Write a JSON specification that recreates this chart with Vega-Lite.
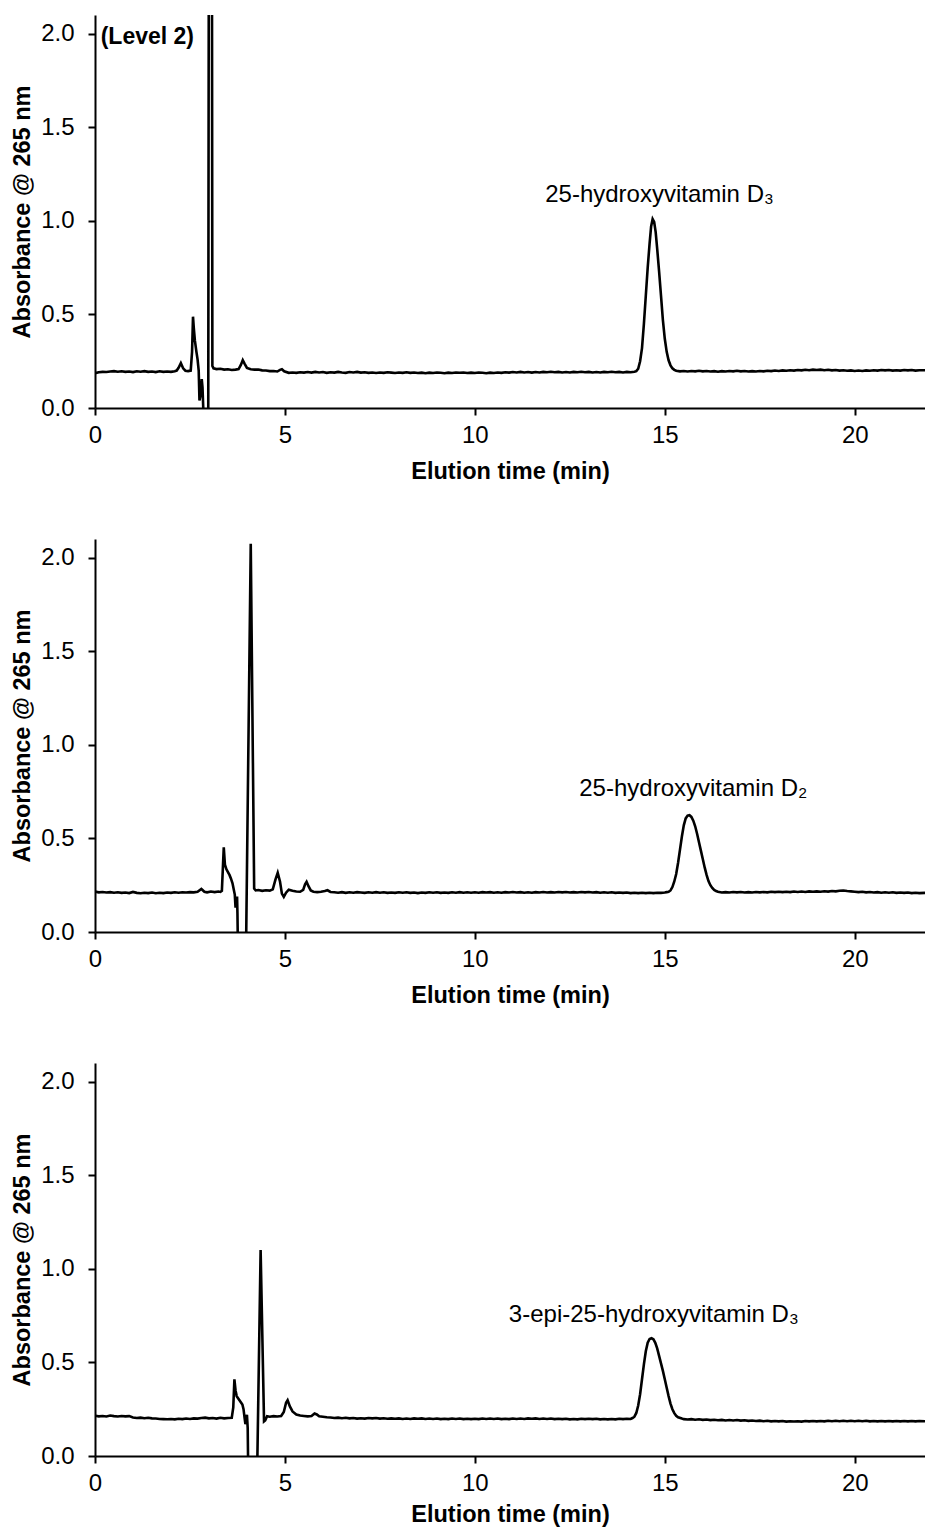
{
  "$schema": "https://vega.github.io/schema/vega-lite/v6.json",
  "background": "white",
  "padding": {"left": 10, "top": 15, "right": 0, "bottom": 5},
  "spacing": 56,
  "config": {
    "view": {"stroke": null},
    "font": "Liberation Sans",
    "axis": {"domainColor": "#000", "domainWidth": 2, "tickColor": "#000", "tickWidth": 2, "tickSize": 7, "labelColor": "#000", "labelFont": "Liberation Sans", "labelFontSize": 24, "titleFont": "Liberation Sans", "titleFontSize": 23.5, "titleFontWeight": "bold", "titleColor": "#000", "grid": false},
    "axisX": {"labelPadding": 8, "titlePadding": 12, "labelFlush": false},
    "axisY": {"labelPadding": 14, "titlePadding": 6}
  },
  "datasets": {
    "p1": [
      {"t":0,"v":0.186},{"t":0.1,"v":0.191},{"t":0.2,"v":0.193},{"t":0.3,"v":0.192},{"t":0.4,"v":0.195},{"t":0.5,"v":0.197},{"t":0.6,"v":0.194},{"t":0.7,"v":0.196},{"t":0.8,"v":0.193},{"t":0.9,"v":0.195},{"t":1.0,"v":0.192},{"t":1.1,"v":0.196},{"t":1.2,"v":0.194},{"t":1.3,"v":0.197},{"t":1.4,"v":0.193},{"t":1.5,"v":0.195},{"t":1.6,"v":0.192},{"t":1.7,"v":0.196},{"t":1.8,"v":0.193},{"t":1.9,"v":0.195},{"t":2.0,"v":0.193},{"t":2.1,"v":0.196},{"t":2.15,"v":0.2},{"t":2.2,"v":0.215},{"t":2.26,"v":0.24},{"t":2.32,"v":0.212},{"t":2.38,"v":0.199},{"t":2.45,"v":0.197},{"t":2.52,"v":0.2},{"t":2.555,"v":0.3},{"t":2.58,"v":0.488},{"t":2.6,"v":0.43},{"t":2.63,"v":0.36},{"t":2.67,"v":0.3},{"t":2.7,"v":0.26},{"t":2.73,"v":0.2},{"t":2.75,"v":0.04},{"t":2.78,"v":0.07},{"t":2.81,"v":0.155},{"t":2.83,"v":0.11},{"t":2.85,"v":0.0},{"t":2.87,"v":-0.3},{"t":2.98,"v":-0.3},{"t":3.04,"v":10},{"t":3.09,"v":0.225},{"t":3.12,"v":0.212},{"t":3.2,"v":0.208},{"t":3.3,"v":0.21},{"t":3.4,"v":0.205},{"t":3.5,"v":0.207},{"t":3.6,"v":0.203},{"t":3.7,"v":0.205},{"t":3.78,"v":0.208},{"t":3.84,"v":0.23},{"t":3.89,"v":0.256},{"t":3.94,"v":0.236},{"t":4.0,"v":0.214},{"t":4.1,"v":0.207},{"t":4.2,"v":0.205},{"t":4.3,"v":0.206},{"t":4.4,"v":0.201},{"t":4.5,"v":0.2},{"t":4.6,"v":0.197},{"t":4.7,"v":0.198},{"t":4.8,"v":0.195},{"t":4.87,"v":0.204},{"t":4.92,"v":0.207},{"t":4.98,"v":0.196},{"t":5.1,"v":0.188},{"t":5.2,"v":0.19},{"t":5.3,"v":0.188},{"t":5.4,"v":0.191},{"t":5.5,"v":0.189},
      {"t":5.6,"v":0.192},{"t":5.7,"v":0.189},{"t":5.8,"v":0.193},{"t":5.9,"v":0.19},{"t":6.0,"v":0.192},{"t":6.1,"v":0.188},{"t":6.2,"v":0.191},{"t":6.3,"v":0.189},{"t":6.4,"v":0.193},{"t":6.5,"v":0.19},{"t":6.6,"v":0.188},{"t":6.7,"v":0.192},{"t":6.8,"v":0.19},{"t":6.9,"v":0.193},{"t":7.0,"v":0.189},{"t":7.1,"v":0.191},{"t":7.2,"v":0.188},{"t":7.3,"v":0.19},{"t":7.4,"v":0.187},{"t":7.5,"v":0.19},{"t":7.6,"v":0.188},{"t":7.7,"v":0.191},{"t":7.8,"v":0.189},{"t":7.9,"v":0.187},{"t":8.0,"v":0.19},{"t":8.1,"v":0.188},{"t":8.2,"v":0.191},{"t":8.3,"v":0.188},{"t":8.4,"v":0.19},{"t":8.5,"v":0.187},{"t":8.6,"v":0.189},{"t":8.7,"v":0.186},{"t":8.8,"v":0.189},{"t":8.9,"v":0.187},{"t":9.0,"v":0.19},{"t":9.1,"v":0.188},{"t":9.2,"v":0.186},{"t":9.3,"v":0.189},{"t":9.4,"v":0.187},{"t":9.5,"v":0.19},{"t":9.6,"v":0.188},{"t":9.7,"v":0.19},{"t":9.8,"v":0.187},{"t":9.9,"v":0.189},{"t":10.0,"v":0.187},{"t":10.1,"v":0.19},{"t":10.2,"v":0.188},{"t":10.3,"v":0.186},{"t":10.4,"v":0.189},{"t":10.5,"v":0.187},{"t":10.6,"v":0.19},{"t":10.7,"v":0.188},{"t":10.8,"v":0.191},{"t":10.9,"v":0.189},{"t":11.0,"v":0.192},{"t":11.1,"v":0.19},{"t":11.2,"v":0.193},{"t":11.3,"v":0.19},{"t":11.4,"v":0.192},{"t":11.5,"v":0.189},{"t":11.6,"v":0.192},{"t":11.7,"v":0.19},{"t":11.8,"v":0.193},{"t":11.9,"v":0.191},{"t":12.0,"v":0.194},{"t":12.1,"v":0.191},{"t":12.2,"v":0.193},{"t":12.3,"v":0.19},{"t":12.4,"v":0.192},{"t":12.5,"v":0.19},{"t":12.6,"v":0.193},{"t":12.7,"v":0.191},{"t":12.8,"v":0.194},{"t":12.9,"v":0.191},{"t":13.0,"v":0.193},{"t":13.1,"v":0.19},{"t":13.2,"v":0.192},{"t":13.3,"v":0.19},{"t":13.4,"v":0.193},{"t":13.5,"v":0.191},{"t":13.6,"v":0.194},{"t":13.7,"v":0.191},{"t":13.8,"v":0.193},{"t":13.9,"v":0.19},{"t":14.0,"v":0.193},{"t":14.1,"v":0.191},{"t":14.2,"v":0.194},
      {"t":14.25,"v":0.197},{"t":14.3,"v":0.21},{"t":14.35,"v":0.25},{"t":14.4,"v":0.32},{"t":14.45,"v":0.45},{"t":14.5,"v":0.6},{"t":14.55,"v":0.75},{"t":14.6,"v":0.88},{"t":14.64,"v":0.97},{"t":14.68,"v":1.01},{"t":14.72,"v":0.995},{"t":14.76,"v":0.94},{"t":14.8,"v":0.85},{"t":14.85,"v":0.73},{"t":14.9,"v":0.6},{"t":14.95,"v":0.47},{"t":15.0,"v":0.37},{"t":15.05,"v":0.3},{"t":15.1,"v":0.255},{"t":15.15,"v":0.228},{"t":15.2,"v":0.212},{"t":15.25,"v":0.204},{"t":15.3,"v":0.199},
      {"t":15.4,"v":0.196},{"t":15.5,"v":0.198},{"t":15.6,"v":0.195},{"t":15.7,"v":0.198},{"t":15.8,"v":0.196},{"t":15.9,"v":0.199},{"t":16.0,"v":0.196},{"t":16.1,"v":0.198},{"t":16.2,"v":0.195},{"t":16.3,"v":0.197},{"t":16.4,"v":0.194},{"t":16.5,"v":0.197},{"t":16.6,"v":0.195},{"t":16.7,"v":0.198},{"t":16.8,"v":0.196},{"t":16.9,"v":0.199},{"t":17.0,"v":0.196},{"t":17.1,"v":0.198},{"t":17.2,"v":0.195},{"t":17.3,"v":0.197},{"t":17.4,"v":0.195},{"t":17.5,"v":0.198},{"t":17.6,"v":0.196},{"t":17.7,"v":0.199},{"t":17.8,"v":0.197},{"t":17.9,"v":0.2},{"t":18.0,"v":0.198},{"t":18.1,"v":0.201},{"t":18.2,"v":0.199},{"t":18.3,"v":0.202},{"t":18.4,"v":0.2},{"t":18.5,"v":0.203},{"t":18.6,"v":0.201},{"t":18.7,"v":0.204},{"t":18.8,"v":0.202},{"t":18.9,"v":0.205},{"t":19.0,"v":0.203},{"t":19.1,"v":0.205},{"t":19.2,"v":0.202},{"t":19.3,"v":0.204},{"t":19.4,"v":0.201},{"t":19.5,"v":0.203},{"t":19.6,"v":0.2},{"t":19.7,"v":0.202},{"t":19.8,"v":0.199},{"t":19.9,"v":0.201},{"t":20.0,"v":0.198},{"t":20.1,"v":0.2},{"t":20.2,"v":0.198},{"t":20.3,"v":0.201},{"t":20.4,"v":0.199},{"t":20.5,"v":0.202},{"t":20.6,"v":0.2},{"t":20.7,"v":0.203},{"t":20.8,"v":0.201},{"t":20.9,"v":0.203},{"t":21.0,"v":0.2},{"t":21.1,"v":0.202},{"t":21.2,"v":0.2},{"t":21.3,"v":0.203},{"t":21.4,"v":0.201},{"t":21.5,"v":0.203},{"t":21.6,"v":0.2},{"t":21.7,"v":0.202},{"t":21.85,"v":0.202}
    ],
    "p2": [
      {"t":0,"v":0.216},{"t":0.1,"v":0.212},{"t":0.2,"v":0.214},{"t":0.3,"v":0.211},{"t":0.4,"v":0.213},{"t":0.5,"v":0.21},{"t":0.6,"v":0.212},{"t":0.7,"v":0.209},{"t":0.8,"v":0.211},{"t":0.9,"v":0.208},{"t":1.0,"v":0.214},{"t":1.1,"v":0.209},{"t":1.2,"v":0.207},{"t":1.3,"v":0.21},{"t":1.4,"v":0.208},{"t":1.5,"v":0.211},{"t":1.6,"v":0.207},{"t":1.7,"v":0.21},{"t":1.8,"v":0.208},{"t":1.9,"v":0.211},{"t":2.0,"v":0.209},{"t":2.1,"v":0.212},{"t":2.2,"v":0.21},{"t":2.3,"v":0.212},{"t":2.4,"v":0.211},{"t":2.5,"v":0.213},{"t":2.6,"v":0.212},{"t":2.7,"v":0.215},{"t":2.8,"v":0.23},{"t":2.88,"v":0.215},{"t":2.95,"v":0.212},{"t":3.05,"v":0.216},{"t":3.15,"v":0.213},{"t":3.25,"v":0.216},{"t":3.3,"v":0.214},{"t":3.34,"v":0.22},{"t":3.37,"v":0.36},{"t":3.39,"v":0.452},{"t":3.42,"v":0.36},{"t":3.46,"v":0.335},{"t":3.5,"v":0.32},{"t":3.54,"v":0.305},{"t":3.58,"v":0.285},{"t":3.62,"v":0.26},{"t":3.65,"v":0.23},{"t":3.68,"v":0.2},{"t":3.7,"v":0.13},{"t":3.72,"v":0.17},{"t":3.74,"v":0.19},{"t":3.75,"v":0.1},{"t":3.77,"v":-0.2},{"t":3.97,"v":-0.2},{"t":4.1,"v":2.075},{"t":4.19,"v":0.232},{"t":4.23,"v":0.222},{"t":4.3,"v":0.224},{"t":4.4,"v":0.22},{"t":4.5,"v":0.223},{"t":4.6,"v":0.221},{"t":4.68,"v":0.228},{"t":4.75,"v":0.28},{"t":4.81,"v":0.316},{"t":4.87,"v":0.27},{"t":4.92,"v":0.205},{"t":4.97,"v":0.188},{"t":5.03,"v":0.21},{"t":5.1,"v":0.226},{"t":5.2,"v":0.22},{"t":5.3,"v":0.216},{"t":5.4,"v":0.215},{"t":5.48,"v":0.225},{"t":5.53,"v":0.255},{"t":5.57,"v":0.268},{"t":5.62,"v":0.245},{"t":5.68,"v":0.222},{"t":5.75,"v":0.215},{"t":5.85,"v":0.213},{"t":5.95,"v":0.215},{"t":6.05,"v":0.219},{"t":6.12,"v":0.223},{"t":6.2,"v":0.214},{"t":6.3,"v":0.212},
      {"t":6.4,"v":0.21},{"t":6.5,"v":0.213},{"t":6.6,"v":0.209},{"t":6.7,"v":0.212},{"t":6.8,"v":0.21},{"t":6.9,"v":0.213},{"t":7.0,"v":0.211},{"t":7.1,"v":0.209},{"t":7.2,"v":0.212},{"t":7.3,"v":0.21},{"t":7.4,"v":0.213},{"t":7.5,"v":0.21},{"t":7.6,"v":0.212},{"t":7.7,"v":0.209},{"t":7.8,"v":0.211},{"t":7.9,"v":0.209},{"t":8.0,"v":0.212},{"t":8.1,"v":0.21},{"t":8.2,"v":0.212},{"t":8.3,"v":0.209},{"t":8.4,"v":0.211},{"t":8.5,"v":0.208},{"t":8.6,"v":0.211},{"t":8.7,"v":0.209},{"t":8.8,"v":0.212},{"t":8.9,"v":0.21},{"t":9.0,"v":0.212},{"t":9.1,"v":0.209},{"t":9.2,"v":0.211},{"t":9.3,"v":0.209},{"t":9.4,"v":0.212},{"t":9.5,"v":0.21},{"t":9.6,"v":0.213},{"t":9.7,"v":0.21},{"t":9.8,"v":0.212},{"t":9.9,"v":0.21},{"t":10.0,"v":0.212},{"t":10.1,"v":0.21},{"t":10.2,"v":0.213},{"t":10.3,"v":0.211},{"t":10.4,"v":0.213},{"t":10.5,"v":0.21},{"t":10.6,"v":0.212},{"t":10.7,"v":0.21},{"t":10.8,"v":0.213},{"t":10.9,"v":0.211},{"t":11.0,"v":0.214},{"t":11.1,"v":0.211},{"t":11.2,"v":0.213},{"t":11.3,"v":0.21},{"t":11.4,"v":0.212},{"t":11.5,"v":0.21},{"t":11.6,"v":0.213},{"t":11.7,"v":0.211},{"t":11.8,"v":0.214},{"t":11.9,"v":0.211},{"t":12.0,"v":0.213},{"t":12.1,"v":0.211},{"t":12.2,"v":0.214},{"t":12.3,"v":0.212},{"t":12.4,"v":0.214},{"t":12.5,"v":0.211},{"t":12.6,"v":0.213},{"t":12.7,"v":0.211},{"t":12.8,"v":0.214},{"t":12.9,"v":0.212},{"t":13.0,"v":0.214},{"t":13.1,"v":0.211},{"t":13.2,"v":0.213},{"t":13.3,"v":0.21},{"t":13.4,"v":0.212},{"t":13.5,"v":0.21},{"t":13.6,"v":0.212},{"t":13.7,"v":0.209},{"t":13.8,"v":0.211},{"t":13.9,"v":0.209},{"t":14.0,"v":0.211},{"t":14.1,"v":0.208},{"t":14.2,"v":0.21},{"t":14.3,"v":0.208},{"t":14.4,"v":0.21},{"t":14.5,"v":0.208},{"t":14.6,"v":0.21},{"t":14.7,"v":0.208},{"t":14.8,"v":0.21},{"t":14.9,"v":0.209},{"t":15.0,"v":0.211},
      {"t":15.05,"v":0.213},{"t":15.1,"v":0.215},{"t":15.15,"v":0.222},{"t":15.2,"v":0.24},{"t":15.25,"v":0.27},{"t":15.3,"v":0.31},{"t":15.35,"v":0.37},{"t":15.4,"v":0.44},{"t":15.45,"v":0.51},{"t":15.5,"v":0.57},{"t":15.55,"v":0.607},{"t":15.6,"v":0.622},{"t":15.65,"v":0.624},{"t":15.7,"v":0.615},{"t":15.75,"v":0.595},{"t":15.8,"v":0.565},{"t":15.85,"v":0.525},{"t":15.9,"v":0.48},{"t":15.95,"v":0.435},{"t":16.0,"v":0.39},{"t":16.05,"v":0.345},{"t":16.1,"v":0.305},{"t":16.15,"v":0.272},{"t":16.2,"v":0.25},{"t":16.25,"v":0.235},{"t":16.3,"v":0.225},{"t":16.35,"v":0.219},{"t":16.4,"v":0.215},
      {"t":16.5,"v":0.211},{"t":16.6,"v":0.213},{"t":16.7,"v":0.211},{"t":16.8,"v":0.214},{"t":16.9,"v":0.212},{"t":17.0,"v":0.214},{"t":17.1,"v":0.211},{"t":17.2,"v":0.213},{"t":17.3,"v":0.211},{"t":17.4,"v":0.214},{"t":17.5,"v":0.212},{"t":17.6,"v":0.214},{"t":17.7,"v":0.212},{"t":17.8,"v":0.215},{"t":17.9,"v":0.213},{"t":18.0,"v":0.215},{"t":18.1,"v":0.213},{"t":18.2,"v":0.215},{"t":18.3,"v":0.213},{"t":18.4,"v":0.216},{"t":18.5,"v":0.214},{"t":18.6,"v":0.216},{"t":18.7,"v":0.214},{"t":18.8,"v":0.217},{"t":18.9,"v":0.215},{"t":19.0,"v":0.217},{"t":19.1,"v":0.215},{"t":19.2,"v":0.218},{"t":19.3,"v":0.216},{"t":19.4,"v":0.219},{"t":19.5,"v":0.217},{"t":19.6,"v":0.22},{"t":19.7,"v":0.222},{"t":19.8,"v":0.219},{"t":19.9,"v":0.217},{"t":20.0,"v":0.215},{"t":20.1,"v":0.213},{"t":20.2,"v":0.215},{"t":20.3,"v":0.212},{"t":20.4,"v":0.214},{"t":20.5,"v":0.211},{"t":20.6,"v":0.213},{"t":20.7,"v":0.21},{"t":20.8,"v":0.212},{"t":20.9,"v":0.21},{"t":21.0,"v":0.212},{"t":21.1,"v":0.209},{"t":21.2,"v":0.211},{"t":21.3,"v":0.209},{"t":21.4,"v":0.211},{"t":21.5,"v":0.208},{"t":21.6,"v":0.21},{"t":21.7,"v":0.208},{"t":21.85,"v":0.209}
    ],
    "p3": [
      {"t":0,"v":0.215},{"t":0.1,"v":0.212},{"t":0.2,"v":0.214},{"t":0.3,"v":0.211},{"t":0.4,"v":0.216},{"t":0.5,"v":0.213},{"t":0.6,"v":0.211},{"t":0.7,"v":0.214},{"t":0.8,"v":0.212},{"t":0.9,"v":0.213},{"t":1.0,"v":0.206},{"t":1.1,"v":0.203},{"t":1.2,"v":0.205},{"t":1.3,"v":0.202},{"t":1.4,"v":0.204},{"t":1.5,"v":0.201},{"t":1.6,"v":0.2},{"t":1.7,"v":0.198},{"t":1.8,"v":0.197},{"t":1.9,"v":0.196},{"t":2.0,"v":0.198},{"t":2.1,"v":0.196},{"t":2.2,"v":0.199},{"t":2.3,"v":0.197},{"t":2.4,"v":0.2},{"t":2.5,"v":0.198},{"t":2.6,"v":0.201},{"t":2.7,"v":0.2},{"t":2.8,"v":0.203},{"t":2.9,"v":0.205},{"t":3.0,"v":0.201},{"t":3.1,"v":0.203},{"t":3.2,"v":0.2},{"t":3.3,"v":0.204},{"t":3.4,"v":0.201},{"t":3.5,"v":0.203},{"t":3.6,"v":0.204},{"t":3.64,"v":0.26},{"t":3.67,"v":0.41},{"t":3.7,"v":0.35},{"t":3.73,"v":0.32},{"t":3.78,"v":0.305},{"t":3.83,"v":0.29},{"t":3.88,"v":0.275},{"t":3.91,"v":0.25},{"t":3.94,"v":0.2},{"t":3.96,"v":0.17},{"t":3.98,"v":0.195},{"t":4.0,"v":0.22},{"t":4.02,"v":0.15},{"t":4.04,"v":-0.2},{"t":4.26,"v":-0.2},{"t":4.36,"v":1.1},{"t":4.45,"v":0.185},{"t":4.48,"v":0.19},{"t":4.53,"v":0.213},{"t":4.6,"v":0.21},{"t":4.7,"v":0.213},{"t":4.8,"v":0.211},{"t":4.9,"v":0.214},{"t":4.97,"v":0.235},{"t":5.03,"v":0.285},{"t":5.07,"v":0.298},{"t":5.13,"v":0.265},{"t":5.2,"v":0.238},{"t":5.3,"v":0.222},{"t":5.4,"v":0.216},{"t":5.5,"v":0.214},{"t":5.6,"v":0.212},{"t":5.7,"v":0.214},{"t":5.78,"v":0.227},{"t":5.84,"v":0.222},{"t":5.9,"v":0.212},{"t":6.0,"v":0.21},{"t":6.1,"v":0.207},
      {"t":6.2,"v":0.206},{"t":6.3,"v":0.203},{"t":6.4,"v":0.205},{"t":6.5,"v":0.202},{"t":6.6,"v":0.204},{"t":6.7,"v":0.201},{"t":6.8,"v":0.203},{"t":6.9,"v":0.2},{"t":7.0,"v":0.202},{"t":7.1,"v":0.2},{"t":7.2,"v":0.203},{"t":7.3,"v":0.201},{"t":7.4,"v":0.203},{"t":7.5,"v":0.2},{"t":7.6,"v":0.202},{"t":7.7,"v":0.199},{"t":7.8,"v":0.201},{"t":7.9,"v":0.199},{"t":8.0,"v":0.201},{"t":8.1,"v":0.198},{"t":8.2,"v":0.2},{"t":8.3,"v":0.198},{"t":8.4,"v":0.201},{"t":8.5,"v":0.199},{"t":8.6,"v":0.201},{"t":8.7,"v":0.198},{"t":8.8,"v":0.2},{"t":8.9,"v":0.198},{"t":9.0,"v":0.2},{"t":9.1,"v":0.197},{"t":9.2,"v":0.199},{"t":9.3,"v":0.197},{"t":9.4,"v":0.2},{"t":9.5,"v":0.198},{"t":9.6,"v":0.2},{"t":9.7,"v":0.197},{"t":9.8,"v":0.199},{"t":9.9,"v":0.197},{"t":10.0,"v":0.199},{"t":10.1,"v":0.197},{"t":10.2,"v":0.2},{"t":10.3,"v":0.198},{"t":10.4,"v":0.2},{"t":10.5,"v":0.198},{"t":10.6,"v":0.2},{"t":10.7,"v":0.197},{"t":10.8,"v":0.199},{"t":10.9,"v":0.197},{"t":11.0,"v":0.2},{"t":11.1,"v":0.198},{"t":11.2,"v":0.2},{"t":11.3,"v":0.198},{"t":11.4,"v":0.201},{"t":11.5,"v":0.199},{"t":11.6,"v":0.201},{"t":11.7,"v":0.198},{"t":11.8,"v":0.2},{"t":11.9,"v":0.198},{"t":12.0,"v":0.2},{"t":12.1,"v":0.197},{"t":12.2,"v":0.199},{"t":12.3,"v":0.197},{"t":12.4,"v":0.199},{"t":12.5,"v":0.196},{"t":12.6,"v":0.198},{"t":12.7,"v":0.196},{"t":12.8,"v":0.199},{"t":12.9,"v":0.197},{"t":13.0,"v":0.199},{"t":13.1,"v":0.197},{"t":13.2,"v":0.199},{"t":13.3,"v":0.196},{"t":13.4,"v":0.198},{"t":13.5,"v":0.196},{"t":13.6,"v":0.198},{"t":13.7,"v":0.196},{"t":13.8,"v":0.199},{"t":13.9,"v":0.197},{"t":14.0,"v":0.199},{"t":14.1,"v":0.198},
      {"t":14.15,"v":0.203},{"t":14.2,"v":0.21},{"t":14.25,"v":0.23},{"t":14.3,"v":0.27},{"t":14.35,"v":0.33},{"t":14.4,"v":0.41},{"t":14.45,"v":0.49},{"t":14.5,"v":0.56},{"t":14.55,"v":0.605},{"t":14.6,"v":0.625},{"t":14.65,"v":0.629},{"t":14.7,"v":0.624},{"t":14.75,"v":0.605},{"t":14.8,"v":0.575},{"t":14.85,"v":0.535},{"t":14.9,"v":0.495},{"t":14.95,"v":0.455},{"t":15.0,"v":0.41},{"t":15.05,"v":0.365},{"t":15.1,"v":0.32},{"t":15.15,"v":0.28},{"t":15.2,"v":0.25},{"t":15.25,"v":0.229},{"t":15.3,"v":0.215},{"t":15.35,"v":0.207},{"t":15.45,"v":0.2},
      {"t":15.5,"v":0.197},{"t":15.6,"v":0.195},{"t":15.7,"v":0.197},{"t":15.8,"v":0.194},{"t":15.9,"v":0.196},{"t":16.0,"v":0.193},{"t":16.1,"v":0.195},{"t":16.2,"v":0.192},{"t":16.3,"v":0.194},{"t":16.4,"v":0.191},{"t":16.5,"v":0.193},{"t":16.6,"v":0.19},{"t":16.7,"v":0.192},{"t":16.8,"v":0.19},{"t":16.9,"v":0.192},{"t":17.0,"v":0.189},{"t":17.1,"v":0.191},{"t":17.2,"v":0.188},{"t":17.3,"v":0.19},{"t":17.4,"v":0.187},{"t":17.5,"v":0.189},{"t":17.6,"v":0.186},{"t":17.7,"v":0.188},{"t":17.8,"v":0.185},{"t":17.9,"v":0.187},{"t":18.0,"v":0.185},{"t":18.1,"v":0.187},{"t":18.2,"v":0.184},{"t":18.3,"v":0.186},{"t":18.4,"v":0.184},{"t":18.5,"v":0.186},{"t":18.6,"v":0.184},{"t":18.7,"v":0.187},{"t":18.8,"v":0.185},{"t":18.9,"v":0.187},{"t":19.0,"v":0.185},{"t":19.1,"v":0.187},{"t":19.2,"v":0.185},{"t":19.3,"v":0.188},{"t":19.4,"v":0.186},{"t":19.5,"v":0.188},{"t":19.6,"v":0.186},{"t":19.7,"v":0.188},{"t":19.8,"v":0.186},{"t":19.9,"v":0.188},{"t":20.0,"v":0.186},{"t":20.1,"v":0.188},{"t":20.2,"v":0.186},{"t":20.3,"v":0.188},{"t":20.4,"v":0.185},{"t":20.5,"v":0.187},{"t":20.6,"v":0.185},{"t":20.7,"v":0.187},{"t":20.8,"v":0.185},{"t":20.9,"v":0.187},{"t":21.0,"v":0.185},{"t":21.1,"v":0.187},{"t":21.2,"v":0.185},{"t":21.3,"v":0.187},{"t":21.4,"v":0.185},{"t":21.5,"v":0.187},{"t":21.6,"v":0.185},{"t":21.7,"v":0.187},{"t":21.85,"v":0.186}
    ],
    "l1": [{"t":14.86,"v":1.1,"label":"25-hydroxyvitamin D₃"}],
    "lev": [{"t":0.15,"v":1.985,"label":"(Level 2)"}],
    "l2": [{"t":15.75,"v":0.727,"label":"25-hydroxyvitamin D₂"}],
    "l3": [{"t":14.71,"v":0.718,"label":"3-epi-25-hydroxyvitamin D₃"}]
  },
  "vconcat": [
    {
      "width": 830, "height": 393,
      "encoding": {
        "x": {"field": "t", "type": "quantitative", "scale": {"domain": [0, 21.85], "nice": false, "zero": false}, "axis": {"values": [0, 5, 10, 15, 20], "format": "d", "title": "Elution time (min)"}},
        "y": {"field": "v", "type": "quantitative", "scale": {"domain": [0, 2.1], "nice": false}, "axis": {"values": [0, 0.5, 1, 1.5, 2], "format": ".1f", "title": "Absorbance @ 265 nm"}}
      },
      "layer": [
        {"data": {"name": "p1"}, "mark": {"type": "line", "color": "#000", "strokeWidth": 2.6, "clip": true, "interpolate": "linear"}},
        {"data": {"name": "l1"}, "mark": {"type": "text", "fontSize": 24, "align": "center", "baseline": "alphabetic", "color": "#000"}, "encoding": {"text": {"field": "label"}}},
        {"data": {"name": "lev"}, "mark": {"type": "text", "fontSize": 23, "fontWeight": "bold", "align": "left", "baseline": "middle", "color": "#000"}, "encoding": {"text": {"field": "label"}}}
      ]
    },
    {
      "width": 830, "height": 393,
      "encoding": {
        "x": {"field": "t", "type": "quantitative", "scale": {"domain": [0, 21.85], "nice": false, "zero": false}, "axis": {"values": [0, 5, 10, 15, 20], "format": "d", "title": "Elution time (min)"}},
        "y": {"field": "v", "type": "quantitative", "scale": {"domain": [0, 2.1], "nice": false}, "axis": {"values": [0, 0.5, 1, 1.5, 2], "format": ".1f", "title": "Absorbance @ 265 nm"}}
      },
      "layer": [
        {"data": {"name": "p2"}, "mark": {"type": "line", "color": "#000", "strokeWidth": 2.6, "clip": true, "interpolate": "linear"}},
        {"data": {"name": "l2"}, "mark": {"type": "text", "fontSize": 24, "align": "center", "baseline": "alphabetic", "color": "#000"}, "encoding": {"text": {"field": "label"}}}
      ]
    },
    {
      "width": 830, "height": 393,
      "encoding": {
        "x": {"field": "t", "type": "quantitative", "scale": {"domain": [0, 21.85], "nice": false, "zero": false}, "axis": {"values": [0, 5, 10, 15, 20], "format": "d", "title": "Elution time (min)", "titlePadding": 7}},
        "y": {"field": "v", "type": "quantitative", "scale": {"domain": [0, 2.1], "nice": false}, "axis": {"values": [0, 0.5, 1, 1.5, 2], "format": ".1f", "title": "Absorbance @ 265 nm"}}
      },
      "layer": [
        {"data": {"name": "p3"}, "mark": {"type": "line", "color": "#000", "strokeWidth": 2.6, "clip": true, "interpolate": "linear"}},
        {"data": {"name": "l3"}, "mark": {"type": "text", "fontSize": 24, "align": "center", "baseline": "alphabetic", "color": "#000"}, "encoding": {"text": {"field": "label"}}}
      ]
    }
  ]
}
